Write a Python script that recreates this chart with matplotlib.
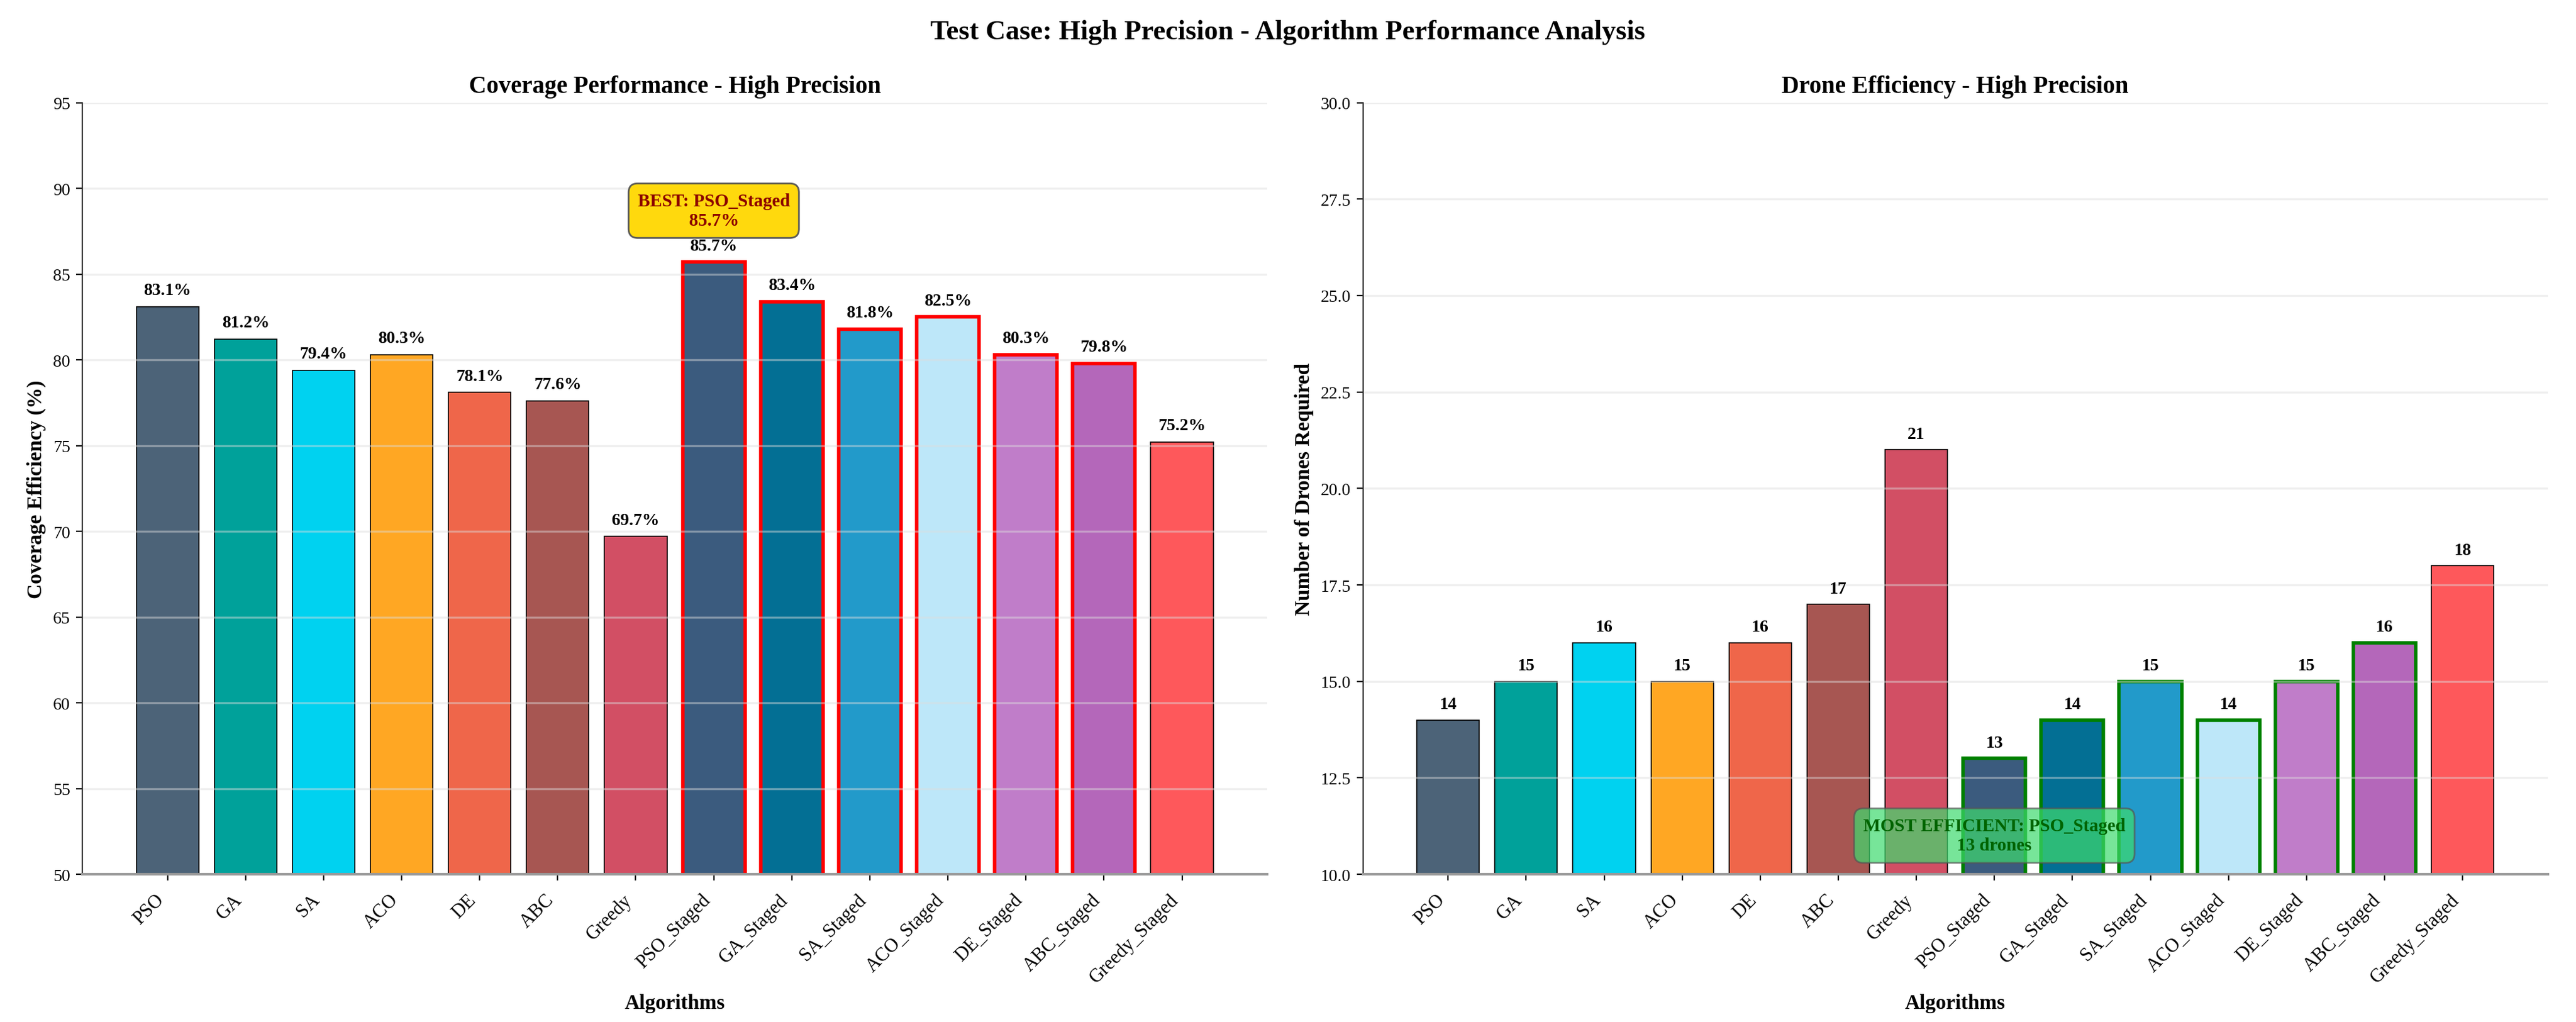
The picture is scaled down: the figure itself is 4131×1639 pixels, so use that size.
import matplotlib
matplotlib.use('Agg')
import matplotlib.pyplot as plt
import numpy as np

# data ---------------------------------------------------------------
algorithms = ['PSO', 'GA', 'SA', 'ACO', 'DE', 'ABC', 'Greedy',
              'PSO_Staged', 'GA_Staged', 'SA_Staged', 'ACO_Staged',
              'DE_Staged', 'ABC_Staged', 'Greedy_Staged']
coverage = [83.1, 81.2, 79.4, 80.3, 78.1, 77.6, 69.7,
            85.7, 83.4, 81.8, 82.5, 80.3, 79.8, 75.2]
drones = [14, 15, 16, 15, 16, 17, 21,
          13, 14, 15, 14, 15, 16, 18]
bar_colors = ['#4C6378', '#00A19A', '#00D2F0', '#FFA723', '#EF664A', '#A75652', '#D24F64',
              '#3B5B7E', '#036F94', '#229ACA', '#BDE7F9', '#C07DC9', '#B467BA', '#FE585B']
# staged runs that got highlighted in each panel
hl_coverage = [False]*7 + [True]*6 + [False]
hl_drones = [False]*7 + [True]*6 + [False]

plt.rcParams['font.family'] = ['Liberation Serif', 'DejaVu Serif']

fig, (ax1, ax2) = plt.subplots(1, 2, figsize=(20.655, 8.2), dpi=200)
fig.subplots_adjust(left=0.032, right=0.989, top=0.899, bottom=0.1445, wspace=0.081)
fig.suptitle('Test Case: High Precision - Algorithm Performance Analysis',
             fontsize=16, fontweight='bold', y=0.968, va='center')

x = np.arange(len(algorithms))


def style_axis(ax):
    ax.spines['top'].set_visible(False)
    ax.spines['right'].set_visible(False)
    ax.spines['left'].set_color('#333333')
    ax.spines['left'].set_linewidth(0.8)
    ax.spines['bottom'].set_color('#999999')
    ax.spines['bottom'].set_linewidth(1.5)
    ax.grid(axis='y', color='#dddddd', alpha=0.45, linewidth=1.2)
    ax.set_xticks(x)
    ax.set_xticklabels(algorithms, rotation=45, ha='right', fontsize=11)
    ax.tick_params(axis='x', pad=6)
    ax.tick_params(axis='y', labelsize=10)
    ax.set_xlabel('Algorithms', fontsize=12, fontweight='bold')


# left: coverage -----------------------------------------------------
bars1 = ax1.bar(x, coverage, width=0.8, color=bar_colors, edgecolor='black', linewidth=0.6)
for b, hl in zip(bars1, hl_coverage):
    if hl:
        b.set_edgecolor('red')
        b.set_linewidth(2.0)
for xi, v in zip(x, coverage):
    ax1.text(xi, v + 0.5, f'{v:.1f}%', ha='center', va='bottom', fontsize=10, fontweight='bold')
ax1.set_ylim(50, 95)
ax1.set_title('Coverage Performance - High Precision', fontsize=14, fontweight='bold')
ax1.set_ylabel('Coverage Efficiency (%)', fontsize=12, fontweight='bold')
style_axis(ax1)

best = int(np.argmax(coverage))
ax1.text(best, coverage[best] + 3.0, f'BEST: {algorithms[best]}\n{coverage[best]:.1f}%',
         ha='center', va='center', fontsize=10.5, fontweight='bold', color='#8B0000',
         bbox=dict(boxstyle='round,pad=0.5', facecolor='gold', edgecolor='#555555', alpha=0.95))

# right: drones ------------------------------------------------------
bars2 = ax2.bar(x, drones, width=0.8, color=bar_colors, edgecolor='black', linewidth=0.6)
for b, hl in zip(bars2, hl_drones):
    if hl:
        b.set_edgecolor('green')
        b.set_linewidth(2.0)
for xi, v in zip(x, drones):
    ax2.text(xi, v + 0.2, f'{v}', ha='center', va='bottom', fontsize=10, fontweight='bold')
ax2.set_ylim(10, 30)
ax2.set_yticks(np.arange(10, 30.1, 2.5))
ax2.yaxis.set_major_formatter(matplotlib.ticker.FormatStrFormatter('%.1f'))
ax2.set_title('Drone Efficiency - High Precision', fontsize=14, fontweight='bold')
ax2.set_ylabel('Number of Drones Required', fontsize=12, fontweight='bold')
style_axis(ax2)

eff = int(np.argmin(drones))
ax2.text(eff, drones[eff] - 2.0, f'MOST EFFICIENT: {algorithms[eff]}\n{drones[eff]} drones',
         ha='center', va='center', fontsize=10.5, fontweight='bold', color='#006400',
         bbox=dict(boxstyle='round,pad=0.5', facecolor='#3EDB6E', edgecolor='#555555', alpha=0.7))

fig.savefig('out.png', dpi=200)
